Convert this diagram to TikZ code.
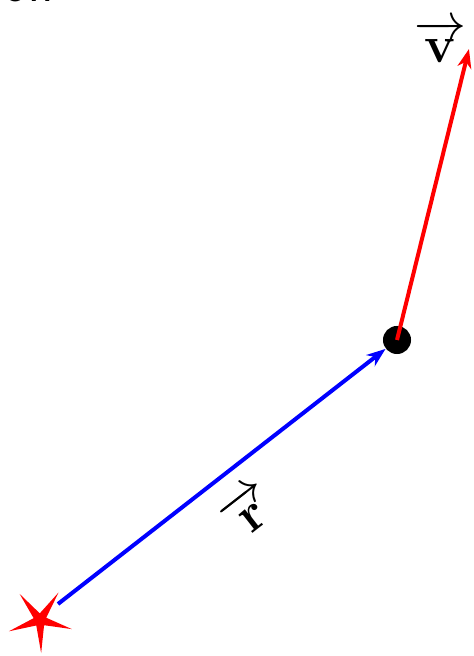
\documentclass[tikz,border=0pt]{standalone}
\usepackage{amsmath,amssymb}
\usepackage{tikz}
\usetikzlibrary{arrows.meta,shapes.geometric}

\begin{document}
\begin{tikzpicture}[scale=1,
  vecline/.style={line width=1.6pt,-{Stealth[length=7.6pt,width=5.6pt,inset=2.4pt]}},
  starmark/.style={star,star points=5,star point ratio=5,fill=red,inner sep=0pt,minimum size=0.93cm,shape border rotate=-34},
  particle/.style={circle,fill=black,inner sep=0pt,minimum size=0.394cm}]
\useasboundingbox (0,0) rectangle (6.646,9.217);
\node[anchor=base east,font=\huge\sffamily] (title) at (0.871,9.197) {on};
\node[starmark] (O) at (0.562,0.506) {};
\coordinate (rtail) at (0.815,0.731);
\node[particle] (P) at (5.578,4.440) {};
\coordinate (vtip) at (6.589,8.528);
\draw[vecline,blue] (rtail) -- (P) node[midway,sloped,below=4.5pt,font=\huge,text=black] (rlabel) {$\overrightarrow{\mathbf{r}}$};
\draw[vecline,red] (P.center) -- (vtip);
\node[font=\huge] (vlabel) at (6.182,8.64) {$\overrightarrow{\mathbf{v}}$};
\end{tikzpicture}
\end{document}
